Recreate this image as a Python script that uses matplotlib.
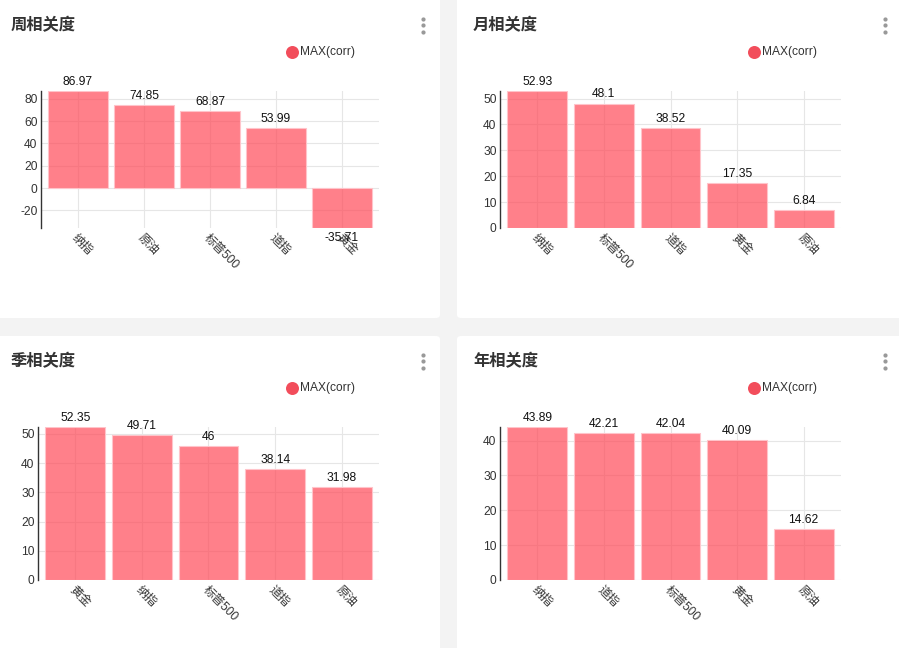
import matplotlib
matplotlib.use("Agg")
import matplotlib.pyplot as plt
from matplotlib.patches import FancyBboxPatch
from matplotlib.lines import Line2D
from matplotlib.ticker import MultipleLocator

plt.rcParams['font.family'] = ['Liberation Sans', 'Noto Sans CJK SC']
plt.rcParams['axes.unicode_minus'] = False

W, H = 899, 648

# ---- data ----
week_title = '周相关度'
week_cats = ['纳指', '原油', '标普500', '道指', '黄金']
week_vals = [86.97, 74.85, 68.87, 53.99, -35.71]

month_title = '月相关度'
month_cats = ['纳指', '标普500', '道指', '黄金', '原油']
month_vals = [52.93, 48.1, 38.52, 17.35, 6.84]

quarter_title = '季相关度'
quarter_cats = ['黄金', '纳指', '标普500', '道指', '原油']
quarter_vals = [52.35, 49.71, 46, 38.14, 31.98]

year_title = '年相关度'
year_cats = ['纳指', '道指', '标普500', '黄金', '原油']
year_vals = [43.89, 42.21, 42.04, 40.09, 14.62]

legend_label = 'MAX(corr)'

# ---- style ----
BG = '#f3f3f3'
BAR = (1.0, 0.29, 0.345, 0.70)
BAR_EDGE = '#ffc4ca'
DOT = '#f24d5b'
GRID = '#e6e6e6'
TXT = '#333333'
PX = 0.72  # px -> pt at dpi 100

fig = plt.figure(figsize=(W / 100, H / 100), dpi=100, facecolor=BG)


def fx(x):
    return x / W


def fy(y):
    return 1 - y / H


def rect(x0, y0, x1, y1):
    return [fx(x0), fy(y1), (x1 - x0) / W, (y1 - y0) / H]


panels = [
    # panel box, axes box, title x, title, cats, vals, ystep
    ((-20, -20, 440, 318), (41, 91, 379, 228), 11, week_title, week_cats, week_vals, 20),
    ((457, -20, 920, 318), (500, 91, 841, 228), 473, month_title, month_cats, month_vals, 10),
    ((-20, 336, 440, 670), (38, 427, 379, 580), 11, quarter_title, quarter_cats, quarter_vals, 10),
    ((457, 336, 920, 670), (500, 427, 841, 580), 473, year_title, year_cats, year_vals, 10),
]

for (px0, py0, px1, py1), (ax0, ay0, ax1, ay1), tx, title, cats, vals, ystep in panels:
    # white card
    card = FancyBboxPatch((fx(px0), fy(py1)), (px1 - px0) / W, (py1 - py0) / H,
                          boxstyle='round,pad=0,rounding_size=0.005',
                          transform=fig.transFigure, facecolor='white',
                          edgecolor='none', zorder=-5)
    fig.add_artist(card)

    left = max(px0, 0)
    top = max(py0, 0)
    # title
    fig.text(fx(tx), fy(top + 25), title, fontsize=16.3 * PX,
             fontweight='bold', color=TXT, ha='left', va='center',
             family=['Noto Sans CJK SC'])
    # menu dots
    mx = 423 if left == 0 else 885
    fig.add_artist(Line2D([fx(mx)] * 3, [fy(top + 18.5), fy(top + 25), fy(top + 31.5)],
                          transform=fig.transFigure, linestyle='none', marker='o',
                          markersize=4.2 * PX, markerfacecolor='#999999',
                          markeredgecolor='none'))
    # legend
    lx = 292 if left == 0 else 754
    ly = top + 51.5
    fig.add_artist(Line2D([fx(lx)], [fy(ly)], transform=fig.transFigure,
                          linestyle='none', marker='o', markersize=13 * PX,
                          markerfacecolor=DOT, markeredgecolor='none'))
    fig.text(fx(lx + 8), fy(ly), legend_label, fontsize=12 * PX, color=TXT,
             ha='left', va='center')

    ax = fig.add_axes(rect(ax0, ay0, ax1, ay1))
    ax.set_zorder(5)
    ax.set_facecolor('none')
    xs = list(range(len(cats)))
    ax.bar(xs, vals, width=0.9, color=BAR, edgecolor=BAR_EDGE, linewidth=0.8,
           zorder=2)
    ymin = min(0, min(vals))
    ymax = max(vals)
    ax.set_ylim(ymin, ymax)
    ax.set_xlim(-0.56, len(cats) - 1 + 0.56)
    ax.yaxis.set_major_locator(MultipleLocator(ystep))
    ax.set_xticks(xs)
    ax.set_xticklabels(cats, rotation=-45, ha='left', va='top',
                       rotation_mode='anchor', fontsize=12 * PX, color=TXT)
    ax.tick_params(axis='x', length=0, pad=3)
    ax.tick_params(axis='y', length=0, pad=2.5, labelsize=12 * PX, labelcolor=TXT)
    ax.grid(True, color=GRID, linewidth=0.8, zorder=0)
    ax.set_axisbelow(True)
    for s in ('top', 'right', 'bottom'):
        ax.spines[s].set_visible(False)
    ax.spines['left'].set_color(TXT)
    ax.spines['left'].set_linewidth(1.0)
    for x, v in zip(xs, vals):
        off = 6.5 if v >= 0 else -7
        ax.annotate(f'{v:g}', (x, v), xytext=(0, off), textcoords='offset points',
                    ha='center', va='center', fontsize=12 * PX, color='#111111',
                    annotation_clip=False, zorder=1)

fig.savefig('out.png', dpi=100, facecolor=BG)
